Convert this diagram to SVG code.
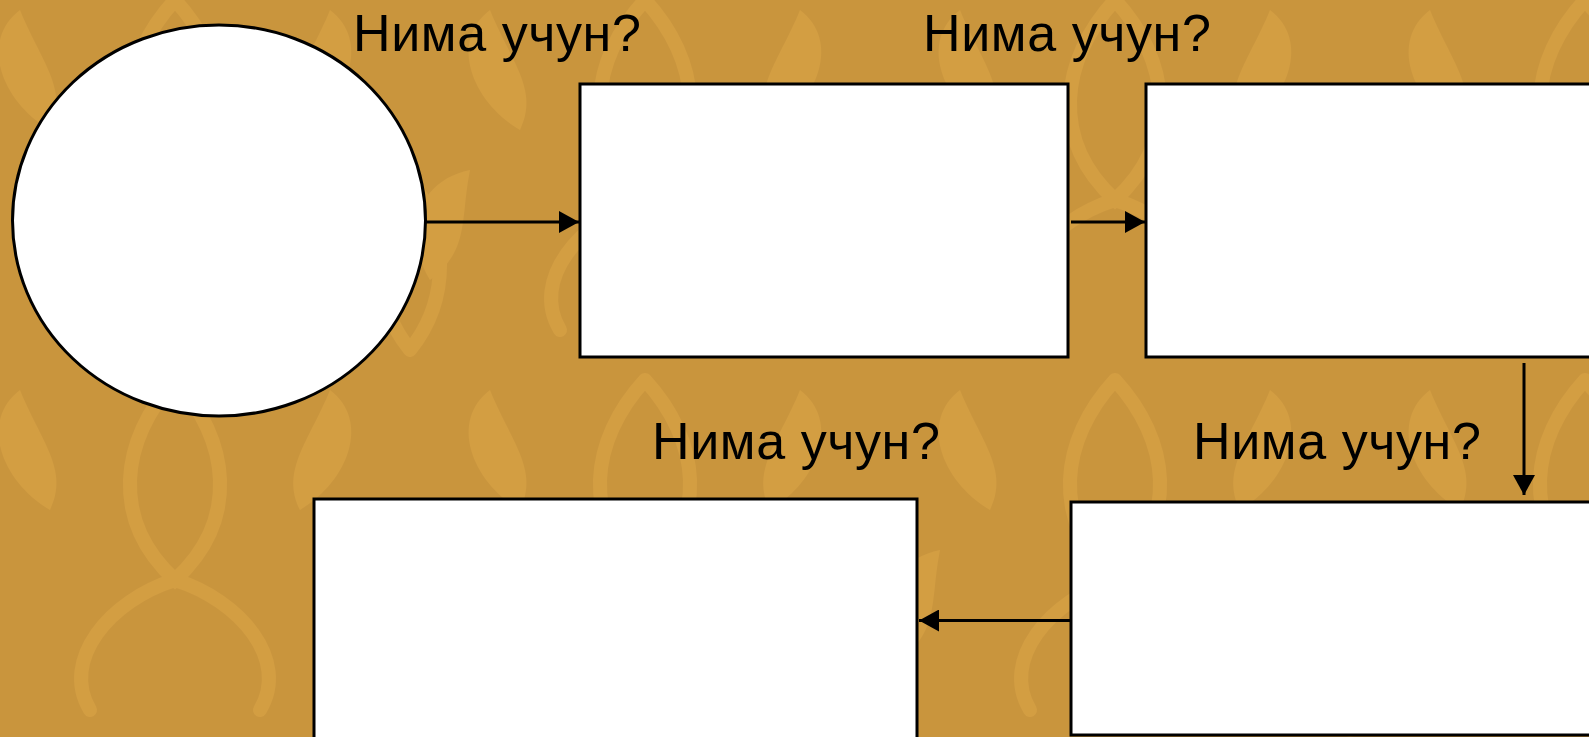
<svg xmlns="http://www.w3.org/2000/svg" width="1589" height="737" viewBox="0 0 1589 737">
  <style>
    .node { fill: #ffffff; stroke: #000000; stroke-width: 3; }
    .edge { fill: none; stroke: #000000; stroke-width: 3; }
    .label { font-family: "Liberation Sans", Arial, sans-serif; font-size: 52px; letter-spacing: 0.6px; fill: #000000; }
    .orn { fill: none; stroke: #DCA547; stroke-width: 14; stroke-linecap: round; }
    .leaf { fill: #DCA547; }
  </style>
  <defs>
    <marker id="arrow" viewBox="0 0 20 22" refX="20" refY="11" markerWidth="20" markerHeight="22" markerUnits="userSpaceOnUse" orient="auto">
      <path d="M0,0 L20,11 L0,22 Z" fill="#000000"/>
    </marker>
    <pattern id="damask" x="-60" y="-20" width="470" height="380" patternUnits="userSpaceOnUse">
      <path class="orn" d="M235,20 C180,80 170,160 235,220 C300,160 290,80 235,20"/>
      <path class="orn" d="M235,220 C170,240 120,300 150,350"/>
      <path class="orn" d="M235,220 C300,240 350,300 320,350"/>
      <path class="leaf" d="M110,150 C60,120 40,60 80,30 C100,80 130,110 110,150 Z"/>
      <path class="leaf" d="M360,150 C410,120 430,60 390,30 C370,80 340,110 360,150 Z"/>
      <path class="leaf" d="M20,300 C-10,250 10,200 60,190 C50,240 60,270 20,300 Z"/>
      <path class="leaf" d="M450,300 C480,250 460,200 410,190 C420,240 410,270 450,300 Z"/>
      <path class="orn" d="M0,200 C40,250 40,320 0,370"/>
      <path class="orn" d="M470,200 C430,250 430,320 470,370"/>
    </pattern>
  </defs>

  <rect x="0" y="0" width="1589" height="737" fill="#C9953D"/>
  <rect x="0" y="0" width="1589" height="737" fill="url(#damask)" opacity="0.55"/>

  <g id="labels">
    <text class="label" x="353" y="51">Нима учун?</text>
    <text class="label" x="923" y="51">Нима учун?</text>
    <text class="label" x="652" y="459">Нима учун?</text>
    <text class="label" x="1193" y="459">Нима учун?</text>
  </g>

  <g id="node-start">
    <ellipse class="node" cx="219" cy="220.5" rx="206.5" ry="195.5"/>
  </g>
  <g id="node-1">
    <rect class="node" x="580" y="84" width="488" height="273"/>
  </g>
  <g id="node-2">
    <rect class="node" x="1146" y="84" width="460" height="273"/>
  </g>
  <g id="node-3">
    <rect class="node" x="1071" y="502" width="540" height="233"/>
  </g>
  <g id="node-4">
    <rect class="node" x="314" y="499" width="603" height="260"/>
  </g>

  <g id="connectors">
    <line class="edge" x1="426" y1="222" x2="579" y2="222" marker-end="url(#arrow)"/>
    <line class="edge" x1="1071" y1="222" x2="1145" y2="222" marker-end="url(#arrow)"/>
    <line class="edge" x1="1524" y1="363" x2="1524" y2="495" marker-end="url(#arrow)"/>
    <line class="edge" x1="1071" y1="620.5" x2="919" y2="620.5" marker-end="url(#arrow)"/>
  </g>
</svg>
